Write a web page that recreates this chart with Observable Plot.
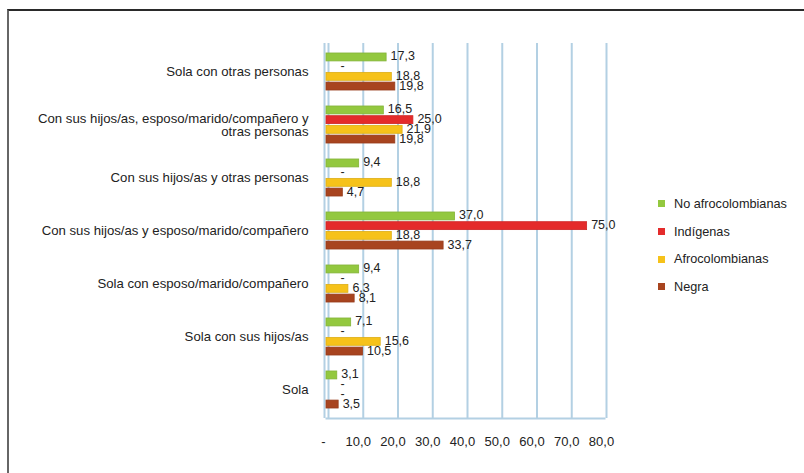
<!DOCTYPE html>
<html>
<head>
<meta charset="utf-8">
<script src="https://cdn.jsdelivr.net/npm/d3@7"></script>
<script src="https://cdn.jsdelivr.net/npm/@observablehq/plot@0.6"></script>
<style>
  html, body { margin: 0; padding: 0; background: #fff; }
  body { width: 804px; height: 473px; position: relative; overflow: hidden; font-family: "Liberation Sans", Arial, sans-serif; }
  #frame { position: absolute; left: 7px; top: 9px; right: -5px; bottom: -5px; border-top: 2px solid #2a2a2a; border-left: 2px solid #666; pointer-events: none; }
  #chart { position: absolute; left: 0; top: 0; }
  #legend { position: absolute; left: 658px; top: 190px; font-size: 12.7px; color: #222; }
  .item { height: 27.7px; display: flex; align-items: center; }
  .sw { width: 7px; height: 7px; margin-right: 9px; }
</style>
</head>
<body>
<div id="chart"></div>
<div id="frame"></div>
<div id="legend"></div>
<script>
const categories = [
  "Sola con otras personas",
  "Con sus hijos/as, esposo/marido/compañero y otras personas",
  "Con sus hijos/as y otras personas",
  "Con sus hijos/as y esposo/marido/compañero",
  "Sola con esposo/marido/compañero",
  "Sola con sus hijos/as",
  "Sola"
];
const categoryLabels = [
  "Sola con otras personas",
  "Con sus hijos/as, esposo/marido/compañero y\notras personas",
  "Con sus hijos/as y otras personas",
  "Con sus hijos/as y esposo/marido/compañero",
  "Sola con esposo/marido/compañero",
  "Sola con sus hijos/as",
  "Sola"
];
const series = ["No afrocolombianas", "Indígenas", "Afrocolombianas", "Negra"];
const colors = ["#93c83f", "#e42b2b", "#f6c21a", "#a8441f"];
const noAfro = [17.3, 16.5, 9.4, 37.0, 9.4, 7.1, 3.1];
const indigenas = [0, 25.0, 0, 75.0, 0, 0, 0];
const afro = [18.8, 21.9, 18.8, 18.8, 6.3, 15.6, 0];
const negra = [19.8, 19.8, 4.7, 33.7, 8.1, 10.5, 3.5];
const xTicks = [0, 10, 20, 30, 40, 50, 60, 70, 80];

const valuesBySeries = [noAfro, indigenas, afro, negra];
const rows = [];
series.forEach((s, i) => categories.forEach((c, j) => rows.push({series: s, si: i, cat: c, value: valuesBySeries[i][j]})));

const fmt = v => v.toFixed(1).replace(".", ",");
const labelOf = Object.fromEntries(categories.map((c, j) => [c, categoryLabels[j]]));

const W = 804, H = 473, mT = 43, mB = 55, mL = 326, mR = 200;
const bw = (H - mT - mB) / categories.length;
const pitch = 9.7, barH = 8.5;

const marks = [
  Plot.gridX(xTicks, {stroke: "#b3d0e3", strokeOpacity: 1, strokeWidth: 2, dx: 2}),
  Plot.ruleX([0], {stroke: "#b3d0e3", strokeWidth: 2, dx: -2}),
  Plot.frame({anchor: "bottom", stroke: "#b3d0e3", strokeWidth: 2})
];
series.forEach((s, i) => {
  const off = (i - 1.5) * pitch;
  const insetTop = bw / 2 + off - barH / 2;
  const insetBottom = bw - insetTop - barH;
  const data = rows.filter(d => d.si === i);
  marks.push(Plot.barX(data, {x: "value", y: "cat", fill: colors[i], stroke: d3.color(colors[i]).darker(0.3).formatHex(), strokeWidth: 0.8, insetTop, insetBottom}));
  marks.push(Plot.text(data.filter(d => d.value !== 0), {x: "value", y: "cat", text: d => fmt(d.value), textAnchor: "start", dx: 4, dy: off - 1, fill: "#222", fontSize: 12.5}));
  marks.push(Plot.text(data.filter(d => d.value === 0), {x: "value", y: "cat", text: () => "-", textAnchor: "start", dx: 14, dy: off - 1, fill: "#222", fontSize: 12.5}));
});
marks.push(Plot.axisY({tickSize: 0, tickPadding: 18, tickFormat: c => labelOf[c], fontSize: 13.2, label: null}));
marks.push(Plot.axisX(xTicks, {tickSize: 0, tickPadding: 18, dx: -3, tickFormat: d => d === 0 ? "-" : fmt(d), fontSize: 13, label: null}));

const chart = Plot.plot({
  width: W, height: H,
  marginTop: mT, marginBottom: mB, marginLeft: mL, marginRight: mR,
  style: {fontFamily: "'Liberation Sans', Arial, sans-serif", fontSize: "13px", color: "#222", background: "transparent"},
  x: {domain: [0, 80]},
  y: {domain: categories, padding: 0},
  marks
});
document.getElementById("chart").appendChild(chart);

const legend = document.getElementById("legend");
series.forEach((s, i) => {
  const item = document.createElement("div");
  item.className = "item";
  item.innerHTML = `<span class="sw" style="background:${colors[i]}"></span><span>${s}</span>`;
  legend.appendChild(item);
});
</script>
</body>
</html>
